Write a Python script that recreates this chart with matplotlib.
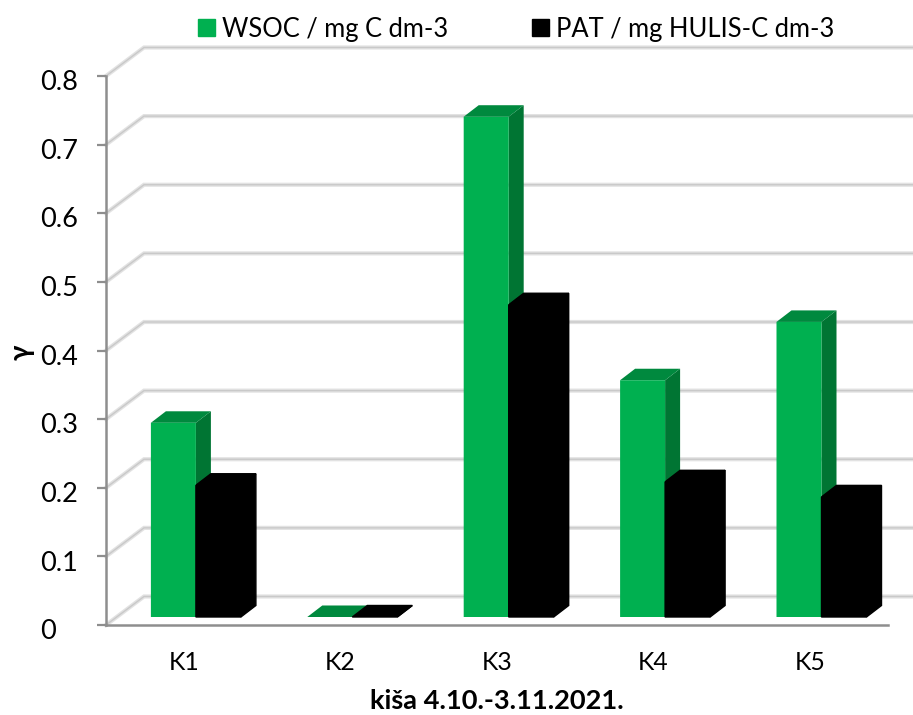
import matplotlib
matplotlib.use('Agg')
import numpy as np
import matplotlib.pyplot as plt
from matplotlib.patches import Patch
from matplotlib.transforms import ScaledTranslation

plt.rcParams['font.family'] = ['Lato', 'DejaVu Sans']

# data
stations = ['K1', 'K2', 'K3', 'K4', 'K5']
wsoc = [0.283, 0.0, 0.729, 0.345, 0.43]
pat = [0.192, 0.0, 0.455, 0.197, 0.175]
yticks = [0, 0.1, 0.2, 0.3, 0.4, 0.5, 0.6, 0.7, 0.8]
yticklabels = ['0', '0.1', '0.2', '0.3', '0.4', '0.5', '0.6', '0.7', '0.8']

W, H = 913, 715
fig = plt.figure(figsize=(W/100, H/100), dpi=100)
ax = fig.add_axes([106/W, (H-625)/H, (888-106)/W, (625-76)/H])
ax.set_xlim(-0.5, 4.5)
ax.set_ylim(0, 0.8)

# fake 3D depth, in data units
wall_dx = 38/156.4
wall_dy = 28.5/686
bar_dx = 15/156.4
bar_dy = 11.5/686
lift = 8/686
bar_w = 45/156.4
shift = 11.7/156.4

GREEN = '#00b050'
GREEN_TOP = '#00893e'
GREEN_SIDE = '#007533'

# back wall grid + left wall diagonals, wide pale line with a darker core
for v in yticks:
    for c, w in [('#e2e2e2', 3.0), ('#c9c9c9', 1.0)]:
        ax.plot([-0.5, -0.5+wall_dx, 4.5+wall_dx], [v, v+wall_dy, v+wall_dy],
                color=c, lw=w, clip_on=False, zorder=1, solid_joinstyle='miter')


def box(x0, v, front, top, side, seam=0):
    x1 = x0 + bar_w
    y0 = lift
    y1 = lift + v
    ax.fill([x1, x1+bar_dx, x1+bar_dx, x1], [y0, y0+bar_dy, y1+bar_dy, y1],
            facecolor=side, edgecolor=side, lw=seam, clip_on=False, zorder=3)
    ax.fill([x0, x0+bar_dx, x1+bar_dx, x1], [y1, y1+bar_dy, y1+bar_dy, y1],
            facecolor=top, edgecolor=top, lw=seam, clip_on=False, zorder=3)
    if v > 0:
        ax.bar(x0, v, bar_w, bottom=y0, align='edge', color=front,
               edgecolor=front, lw=seam, clip_on=False, zorder=4, snap=False)


x = np.arange(len(stations))
for i in x:
    box(i + shift - bar_w, wsoc[i], GREEN, GREEN_TOP, GREEN_SIDE)
for i in x:
    # thin black edge hides the seams between the three black faces
    box(i + shift, pat[i], 'black', 'black', 'black', seam=1.0)

for s in ['top', 'right']:
    ax.spines[s].set_visible(False)
for s in ['left', 'bottom']:
    ax.spines[s].set_color('#8e8e8e')
    ax.spines[s].set_linewidth(1.8)
    ax.spines[s].set_zorder(2)

ax.set_xticks(x)
ax.set_xticklabels(stations, fontsize=17.8, color='black')
ax.tick_params(axis='x', length=0, pad=19)
ax.set_yticks(yticks)
ax.set_yticklabels(yticklabels, fontsize=19.5, color='black')
ax.tick_params(axis='y', length=6.5, width=1.6, color='#8e8e8e', pad=41)
down = ScaledTranslation(0, -3/72, fig.dpi_scale_trans)
for lab in ax.get_yticklabels():
    lab.set_ha('left')
    lab.set_transform(lab.get_transform() + down)

fig.text(22/W, 1-352/H, 'γ', rotation=90, ha='center', va='center',
         fontsize=20, fontweight='bold')
fig.text(497/W, 1-701/H, 'kiša 4.10.-3.11.2021.', ha='center', va='center',
         fontsize=19.6, fontweight='bold')

handles = [Patch(color=GREEN, label='WSOC / mg C dm-3'),
           Patch(color='black', label='PAT / mg HULIS-C dm-3')]
fig.legend(handles=handles, loc='center', bbox_to_anchor=(516/W, 1-29/H), ncol=2,
           frameon=False, fontsize=18.4, handlelength=0.665, handleheight=0.665,
           handletextpad=0.27, columnspacing=3.3, borderpad=0, borderaxespad=0)

fig.savefig('out.png', dpi=100)
